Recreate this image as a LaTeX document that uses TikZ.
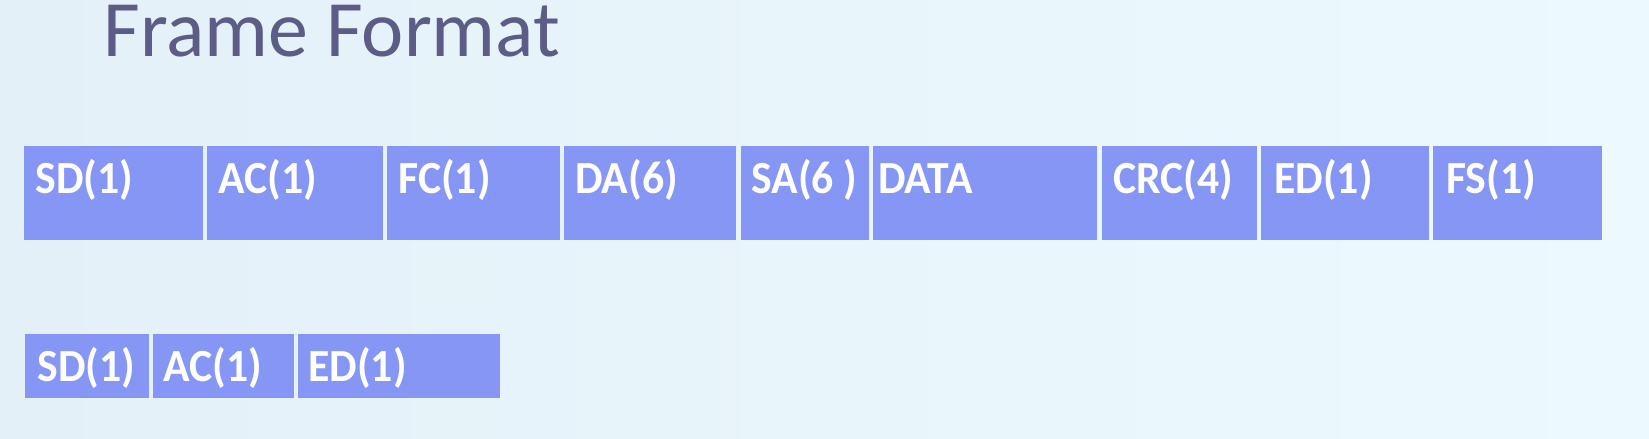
\documentclass[tikz,border=0pt]{standalone}
\usepackage{fontspec}
\setmainfont{Carlito}
\definecolor{slide}{RGB}{236,250,253}
\definecolor{slideleft}{RGB}{228,240,248}
\definecolor{field}{RGB}{134,150,244}
\definecolor{titlecol}{RGB}{92,92,135}
\newcommand{\lbltext}[1]{\scalebox{0.95}[1]{#1}}
\begin{document}
\begin{tikzpicture}[x=0.02cm,y=-0.02cm,
  fieldbox/.style={fill=field},
  lbl/.style={anchor=base west,inner sep=0pt,text=white,font=\fontsize{26.2}{28}\selectfont\bfseries},
  titlelbl/.style={anchor=base west,inner sep=0pt,text=titlecol,font=\fontsize{45.5}{47}\selectfont}]
%Slide background
\shade[left color=slideleft,right color=slide] (0,0) rectangle (1649,439);
\useasboundingbox (0,0) rectangle (1649,439);

\node [titlelbl] (title) at (103,57) {Frame Format};

%Full frame
\fill [fieldbox] (24,146) rectangle (203,240);
\fill [fieldbox] (207,146) rectangle (383,240);
\fill [fieldbox] (387,146) rectangle (560,240);
\fill [fieldbox] (564,146) rectangle (736,240);
\fill [fieldbox] (741,146) rectangle (869,240);
\fill [fieldbox] (873,146) rectangle (1097,240);
\fill [fieldbox] (1102,146) rectangle (1257,240);
\fill [fieldbox] (1261,146) rectangle (1429,240);
\fill [fieldbox] (1433,146) rectangle (1602,240);

\node [lbl] (sd) at (35,193) {\lbltext{SD(1)}};
\node [lbl] (ac) at (218,193) {\lbltext{AC(1)}};
\node [lbl] (fc) at (398,193) {\lbltext{FC(1)}};
\node [lbl] (da) at (575,193) {\lbltext{DA(6)}};
\node [lbl] (sa) at (751,193) {\lbltext{SA(6 )}};
\node [lbl] (data) at (878,193) {\lbltext{DATA}};
\node [lbl] (crc) at (1113,193) {\lbltext{CRC(4)}};
\node [lbl] (ed) at (1274,193) {\lbltext{ED(1)}};
\node [lbl] (fs) at (1446,193) {\lbltext{FS(1)}};

%Token
\fill [fieldbox] (25,334) rectangle (149,398);
\fill [fieldbox] (153,334) rectangle (294,398);
\fill [fieldbox] (298,334) rectangle (500,398);

\node [lbl] (tsd) at (37,381) {\lbltext{SD(1)}};
\node [lbl] (tac) at (163,381) {\lbltext{AC(1)}};
\node [lbl] (ted) at (308,381) {\lbltext{ED(1)}};
\end{tikzpicture}
\end{document}
